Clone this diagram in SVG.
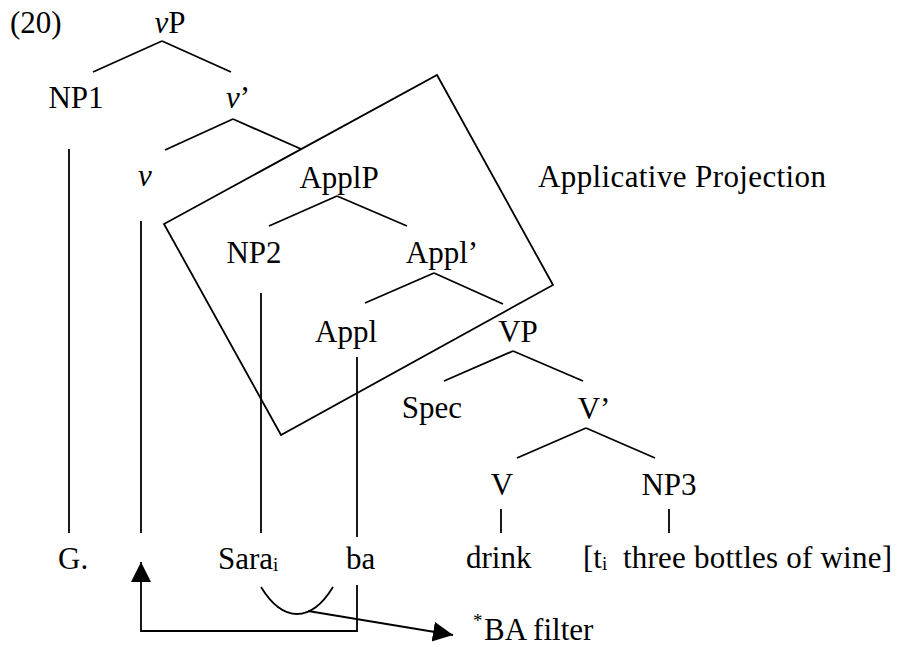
<svg xmlns="http://www.w3.org/2000/svg" width="897" height="647" viewBox="0 0 897 647">
  <style>
    text { font-family: "Liberation Serif", Tinos, "Times New Roman", "DejaVu Serif", serif; font-size: 31px; fill: #000; }
    .mid { text-anchor: middle; }
    .it { font-style: italic; }
    .sub { font-size: 19px; }
    .sup { font-size: 19px; }
    line, path, polygon.box { stroke: #000; stroke-width: 1.8; fill: none; }
  </style>
  <defs>
    <marker id="head" markerUnits="userSpaceOnUse" markerWidth="21" markerHeight="21" refX="20" refY="10" orient="auto">
      <path d="M0,0 L20,10 L0,20 Z" style="fill:#000;stroke:none"/>
    </marker>
  </defs>

  <g font-family="'Liberation Serif', 'Times New Roman', serif">
  <!-- example number -->
  <text id="exnum" x="10" y="33">(20)</text>

  <!-- tree nodes -->
  <g id="vP"><text class="mid" x="170" y="33"><tspan class="it">v</tspan>P</text></g>
  <g id="NP1"><text class="mid" x="76" y="108">NP1</text></g>
  <g id="vbar"><text class="mid" x="238" y="108"><tspan class="it">v</tspan>’</text></g>
  <g id="v"><text class="mid it" x="145" y="186">v</text></g>
  <g id="ApplP"><text class="mid" x="339" y="188">ApplP</text></g>
  <g id="NP2"><text class="mid" x="254" y="263">NP2</text></g>
  <g id="Applbar"><text class="mid" x="442" y="263">Appl’</text></g>
  <g id="Appl"><text class="mid" x="346" y="342">Appl</text></g>
  <g id="VP"><text class="mid" x="518" y="342">VP</text></g>
  <g id="Spec"><text class="mid" x="432" y="418">Spec</text></g>
  <g id="Vbar"><text class="mid" x="594" y="419">V’</text></g>
  <g id="V"><text class="mid" x="502" y="495">V</text></g>
  <g id="NP3"><text class="mid" x="669" y="495">NP3</text></g>

  <!-- terminals -->
  <g id="G"><text x="58" y="569">G.</text></g>
  <g id="Sara"><text x="218" y="569">Sara<tspan class="sub" dy="2">i</tspan></text></g>
  <g id="ba"><text x="346" y="569">ba</text></g>
  <g id="drink"><text x="466" y="568">drink</text></g>
  <g id="NP3-words">
    <text x="583" y="568">[t<tspan class="sub" dy="2">i</tspan></text>
    <text x="623" y="568" textLength="269" lengthAdjust="spacing">three bottles of wine]</text>
  </g>

  <!-- projection label and filter label -->
  <g id="proj-label"><text x="538" y="187" textLength="288" lengthAdjust="spacing">Applicative Projection</text></g>
  <g id="filter-label">
    <text class="sup" x="473" y="627">*</text>
    <text x="484" y="640">BA filter</text>
  </g>
  </g>

  <!-- box around the applicative projection -->
  <g id="appl-box">
    <polygon class="box" points="437,75 553,285 281,435 164,224"/>
  </g>

  <!-- branches and connectors -->
  <g id="connectors">
    <line x1="162" y1="41" x2="93" y2="72"/>
    <line x1="162" y1="41" x2="231" y2="72"/>
    <line x1="233" y1="119" x2="165" y2="150"/>
    <line x1="233" y1="119" x2="301" y2="149"/>
    <line x1="337" y1="196" x2="269" y2="226"/>
    <line x1="337" y1="196" x2="407" y2="226"/>
    <line x1="434" y1="273" x2="365" y2="303"/>
    <line x1="434" y1="273" x2="503" y2="304"/>
    <line x1="513" y1="351" x2="444" y2="381"/>
    <line x1="513" y1="351" x2="583" y2="381"/>
    <line x1="586" y1="428" x2="517" y2="458"/>
    <line x1="586" y1="428" x2="655" y2="458"/>

    <line x1="69" y1="149" x2="69" y2="533"/>
    <line x1="141" y1="221" x2="141" y2="533"/>
    <line x1="261" y1="293" x2="261" y2="533"/>
    <line x1="357" y1="357" x2="357" y2="537"/>
    <line x1="501" y1="509" x2="501" y2="533"/>
    <line x1="669" y1="509" x2="669" y2="533"/>

    <!-- movement path from ba back up to v -->
    <path d="M357,585 V631 H141 V562" marker-end="url(#head)"/>
    <!-- adjacency curve under Sara and ba, pointing to the filter -->
    <path d="M261,587 C283,623 311,623 333,587"/>
    <path d="M308,611 L453,635" marker-end="url(#head)"/>
  </g>
</svg>
